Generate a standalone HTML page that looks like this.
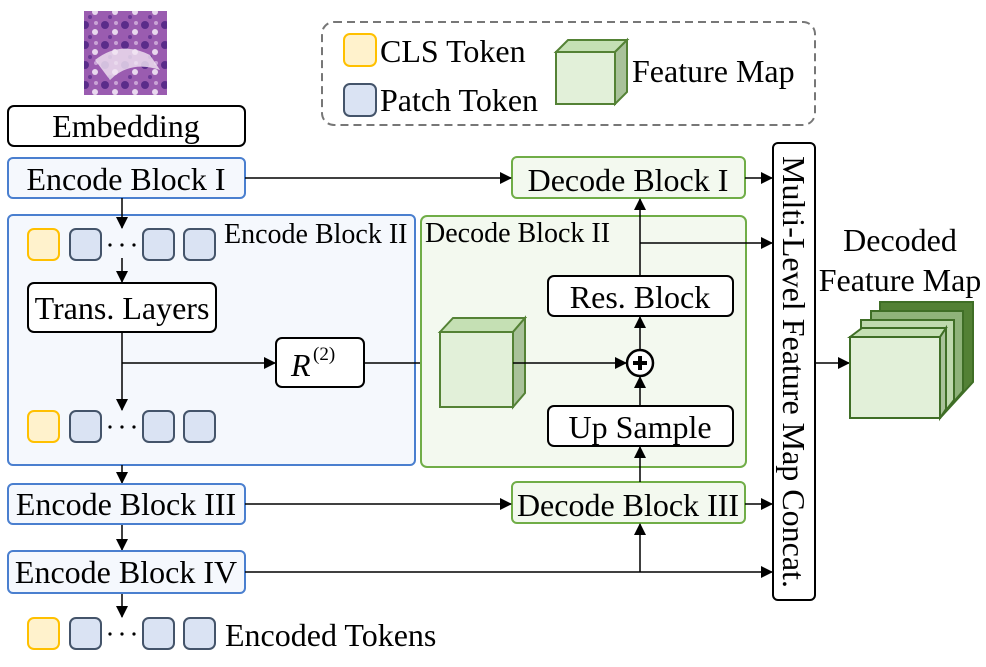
<!DOCTYPE html>
<html><head><meta charset="utf-8"><style>
body{margin:0;background:#fff}
svg text{font-family:"Liberation Serif",serif;fill:#000}
</style></head><body>
<svg width="986" height="662" viewBox="0 0 986 662" xmlns="http://www.w3.org/2000/svg">
<defs>
<marker id="a" markerWidth="12" markerHeight="12" refX="11" refY="6" orient="auto" markerUnits="userSpaceOnUse">
<path d="M0,0 L12,6 L0,12 z" fill="#000"/></marker>
<pattern id="tis" width="20" height="20" patternUnits="userSpaceOnUse">
<rect width="20" height="20" fill="#9a5cb0"/>
<circle cx="5" cy="5" r="4" fill="#5a2c8a"/><circle cx="15" cy="12" r="3" fill="#e8d8ee"/>
<circle cx="10" cy="17" r="2" fill="#6b3a96"/><circle cx="16" cy="3" r="2" fill="#c9a3d6"/>
</pattern>
</defs>
<rect x="84" y="11" width="83" height="84" fill="url(#tis)"/>
<path d="M95,60 Q120,40 150,55 L160,70 Q130,60 110,80 Z" fill="#f1e6f3" opacity="0.8"/>

<!-- legend -->
<rect x="322" y="22" width="493" height="103" rx="12" fill="none" stroke="#777" stroke-width="2" stroke-dasharray="8,5"/>
<rect x="344" y="34" width="32" height="32" rx="6" fill="#fff2cc" stroke="#ffc000" stroke-width="2"/>
<text x="380" y="62" font-size="32">CLS Token</text>
<rect x="344" y="84" width="32" height="32" rx="6" fill="#dae3f3" stroke="#44546a" stroke-width="2"/>
<text x="380" y="111" font-size="32">Patch Token</text>
<polygon points="556,52 568,40 627,40 615,52" fill="#c5e0b4" stroke="#548235" stroke-width="2"/>
<polygon points="615,52 627,40 627,92 615,104" fill="#a9c29a" stroke="#548235" stroke-width="2"/>
<rect x="556" y="52" width="59" height="52" fill="#e2f0d9" stroke="#548235" stroke-width="2"/>
<text x="632" y="82" font-size="32">Feature Map</text>

<!-- encoder -->
<rect x="8" y="106" width="237" height="40" rx="6" fill="#fff" stroke="#000" stroke-width="2"/>
<text x="126" y="137" font-size="32" text-anchor="middle">Embedding</text>
<rect x="8" y="158" width="237" height="40" rx="5" fill="#f5f8fd" stroke="#4a7fcf" stroke-width="2"/>
<text x="126" y="190" font-size="32" text-anchor="middle">Encode Block I</text>
<rect x="8" y="215" width="407" height="250" rx="5" fill="#f5f8fd" stroke="#4a7fcf" stroke-width="2"/>
<text x="224" y="243" font-size="28">Encode Block II</text>

<g id="tok">
<rect x="28" y="229" width="31" height="31" rx="6" fill="#fff2cc" stroke="#ffc000" stroke-width="2"/>
<rect x="70" y="229" width="31" height="31" rx="6" fill="#dae3f3" stroke="#44546a" stroke-width="2"/>
<rect x="143" y="229" width="31" height="31" rx="6" fill="#dae3f3" stroke="#44546a" stroke-width="2"/>
<rect x="184" y="229" width="31" height="31" rx="6" fill="#dae3f3" stroke="#44546a" stroke-width="2"/>
<circle cx="110" cy="245" r="1.6" fill="#000"/><circle cx="122" cy="245" r="1.6" fill="#000"/><circle cx="134" cy="245" r="1.6" fill="#000"/>
</g>
<use href="#tok" y="182"/>
<use href="#tok" y="389"/>
<text x="225" y="646" font-size="32">Encoded Tokens</text>

<rect x="28" y="283" width="188" height="49" rx="6" fill="#fff" stroke="#000" stroke-width="2"/>
<text x="122" y="319" font-size="32" text-anchor="middle">Trans. Layers</text>
<rect x="276" y="338" width="88" height="49" rx="6" fill="#fff" stroke="#000" stroke-width="2"/>
<text x="291" y="376" font-size="32" font-style="italic">R</text>
<text x="313" y="360" font-size="19">(2)</text>

<g stroke="#000" stroke-width="1.5" fill="none">
<line x1="122" y1="198" x2="122" y2="228" marker-end="url(#a)"/>
<line x1="122" y1="258" x2="122" y2="282" marker-end="url(#a)"/>
<line x1="122" y1="332" x2="122" y2="410" marker-end="url(#a)"/>
<line x1="122" y1="363" x2="275" y2="363" marker-end="url(#a)"/>
<line x1="364" y1="363" x2="439" y2="363" marker-end="url(#a)"/>
<line x1="122" y1="465" x2="122" y2="483" marker-end="url(#a)"/>
<line x1="122" y1="524" x2="122" y2="550" marker-end="url(#a)"/>
<line x1="122" y1="593" x2="122" y2="617" marker-end="url(#a)"/>
</g>

<rect x="8" y="484" width="237" height="40" rx="5" fill="#f5f8fd" stroke="#4a7fcf" stroke-width="2"/>
<text x="126" y="515" font-size="32" text-anchor="middle">Encode Block III</text>
<rect x="8" y="551" width="237" height="42" rx="5" fill="#f5f8fd" stroke="#4a7fcf" stroke-width="2"/>
<text x="126" y="583" font-size="32" text-anchor="middle">Encode Block IV</text>

<!-- decoder -->
<rect x="512" y="157" width="233" height="41" rx="5" fill="#f3f9ef" stroke="#70ad47" stroke-width="2"/>
<text x="628" y="191" font-size="32" text-anchor="middle">Decode Block I</text>
<rect x="421" y="216" width="325" height="251" rx="6" fill="#f3f9ef" stroke="#70ad47" stroke-width="2"/>
<text x="425" y="242" font-size="28">Decode Block II</text>
<rect x="548" y="276" width="185" height="40" rx="6" fill="#fff" stroke="#000" stroke-width="2"/>
<text x="640" y="308" font-size="32" text-anchor="middle">Res. Block</text>
<rect x="548" y="406" width="185" height="40" rx="6" fill="#fff" stroke="#000" stroke-width="2"/>
<text x="640" y="438" font-size="32" text-anchor="middle">Up Sample</text>
<polygon points="440,332 453,318 525,318 513,332" fill="#c5e0b4" stroke="#548235" stroke-width="2"/>
<polygon points="513,332 525,318 525,393 513,407" fill="#a9c29a" stroke="#548235" stroke-width="2"/>
<rect x="440" y="332" width="73" height="75" fill="#e2f0d9" stroke="#548235" stroke-width="2"/>
<rect x="512" y="482" width="233" height="41" rx="5" fill="#f3f9ef" stroke="#70ad47" stroke-width="2"/>
<text x="628" y="516" font-size="32" text-anchor="middle">Decode Block III</text>

<g stroke="#000" stroke-width="1.5" fill="none">
<line x1="513" y1="363" x2="626" y2="363" marker-end="url(#a)"/>
<line x1="640" y1="406" x2="640" y2="377" marker-end="url(#a)"/>
<line x1="640" y1="350" x2="640" y2="317" marker-end="url(#a)"/>
<line x1="640" y1="276" x2="640" y2="199" marker-end="url(#a)"/>
<line x1="640" y1="243" x2="772" y2="243" marker-end="url(#a)"/>
<line x1="640" y1="482" x2="640" y2="447" marker-end="url(#a)"/>
<line x1="640" y1="572" x2="640" y2="524" marker-end="url(#a)"/>
<line x1="245" y1="178" x2="511" y2="178" marker-end="url(#a)"/>
<line x1="745" y1="178" x2="772" y2="178" marker-end="url(#a)"/>
<line x1="245" y1="504" x2="511" y2="504" marker-end="url(#a)"/>
<line x1="745" y1="504" x2="772" y2="504" marker-end="url(#a)"/>
<line x1="245" y1="572" x2="772" y2="572" marker-end="url(#a)"/>
<line x1="815" y1="363" x2="849" y2="363" marker-end="url(#a)"/>
</g>
<circle cx="640" cy="363" r="13" fill="#fff" stroke="#000" stroke-width="2.5"/>
<path d="M633,363 H647 M640,356 V370" stroke="#000" stroke-width="4"/>

<rect x="773" y="143" width="42" height="457" rx="5" fill="#fff" stroke="#000" stroke-width="2"/>
<text transform="translate(783,372) rotate(90)" font-size="32" text-anchor="middle">Multi-Level Feature Map Concat.</text>

<!-- output cube -->
<text x="900" y="251" font-size="32" text-anchor="middle">Decoded</text>
<text x="900" y="291" font-size="32" text-anchor="middle">Feature Map</text>
<g stroke="#3f6e26" stroke-width="2">
<polygon points="880,302 973,302 973,382 940,418 880,418" fill="#538135"/>
<polygon points="871,311 963,311 963,391 940,418 871,418" fill="#8fb37a"/>
<polygon points="861,320 954,320 954,400 940,418 861,418" fill="#bfd9ae"/>
<polygon points="850,337 862,328 946,328 940,337" fill="#c5e0b4"/>
<polygon points="940,337 946,328 946,409 940,418" fill="#a9c29a"/>
<rect x="850" y="337" width="90" height="81" fill="#e2f0d9"/>
</g>
</svg>
</body></html>
